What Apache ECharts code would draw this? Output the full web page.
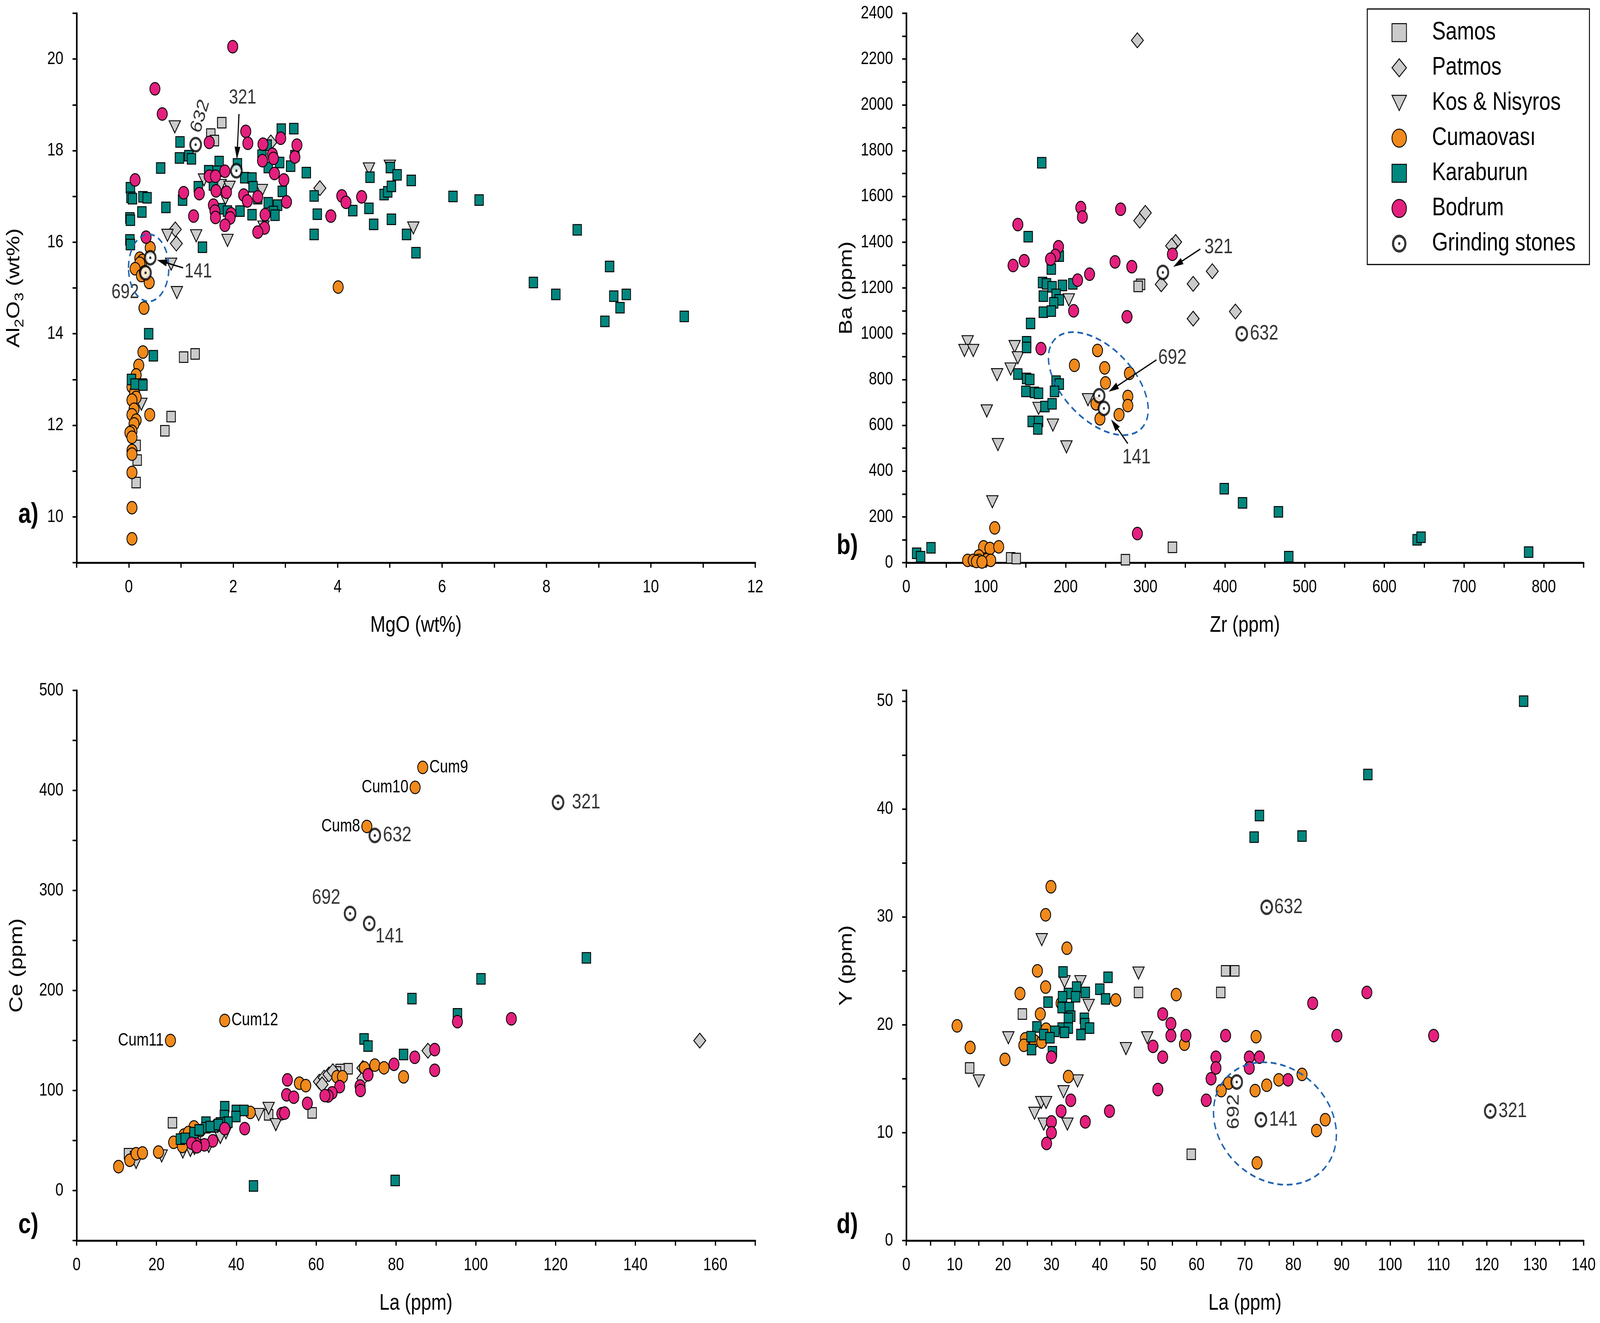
<!DOCTYPE html>
<html><head><meta charset="utf-8">
<script src="https://cdn.jsdelivr.net/npm/echarts@6/dist/echarts.min.js"></script>
<style>html,body{margin:0;padding:0;background:#fff;overflow:hidden}#c{width:5074px;height:3386px;transform-origin:0 0}</style>
</head><body><div id="c"></div>
<script>
// ---------------- DATA ----------------
const groupNames = ['Samos','Patmos','Kos & Nisyros','Cumaovası','Karaburun','Bodrum','Grinding stones'];

// Panel a : MgO (wt%) vs Al2O3 (wt%)
const samosA = [[1.78,18.61],[1.57,18.36],[1.64,18.22],[1.05,13.49],[1.27,13.56],[0.81,12.19],[0.69,11.88],[0.14,11.56],[0.16,11.24],[0.14,10.75],[0.26,12.9]];
const patmosA = [[0.89,16.28],[0.91,15.97],[2.72,18.18],[3.66,17.18]];
const kosA = [[0.88,18.52],[1.44,17.36],[1.76,17.24],[1.93,17.2],[1.85,16.95],[2.55,17.13],[2.58,16.33],[0.74,16.15],[1.29,16.14],[1.89,16.04],[0.81,15.52],[0.92,14.9],[4.6,17.6],[5.0,17.66],[5.45,16.31],[0.24,12.46]];
const cumA = [[0.41,15.88],[0.21,15.65],[0.26,15.6],[0.21,15.54],[0.12,15.42],[0.24,15.27],[0.3,15.35],[0.39,15.12],[0.29,14.56],[4.01,15.02],[0.27,13.6],[0.19,13.31],[0.14,13.1],[0.06,12.84],[0.11,12.72],[0.14,12.61],[0.06,12.55],[0.1,12.35],[0.40,12.23],[0.06,12.23],[0.14,12.11],[0.1,12.03],[0.06,11.87],[0.02,11.84],[0.06,11.74],[0.06,11.45],[0.06,11.37],[0.06,10.97],[0.06,10.2],[0.06,9.52]];
const karA = [[0.03,17.19],[0.04,16.98],[0.07,16.95],[0.27,16.99],[0.35,16.97],[0.25,16.66],[0.02,16.53],[0.03,16.48],[0.02,16.05],[0.03,15.95],[0.61,17.62],[0.71,16.76],[0.98,18.19],[0.97,17.84],[1.15,17.89],[1.2,17.82],[1.33,17.21],[1.03,16.92],[1.41,15.89],[1.53,17.56],[1.73,17.76],[1.69,17.55],[1.62,17.25],[1.77,16.73],[1.89,16.68],[2.08,17.71],[2.22,17.41],[2.36,17.4],[2.38,17.21],[2.47,16.95],[2.13,16.68],[2.36,16.6],[2.55,17.9],[2.65,18.12],[2.67,17.63],[2.89,17.74],[2.67,16.86],[2.85,16.81],[2.77,16.67],[2.8,16.59],[2.94,17.11],[2.92,18.47],[3.16,18.48],[3.18,17.89],[3.1,17.66],[3.4,17.52],[3.55,17.01],[3.61,16.61],[3.55,16.17],[4.29,16.69],[4.6,16.74],[4.69,16.39],[4.89,17.04],[4.96,17.1],[5.03,17.22],[5.01,17.63],[5.14,17.47],[4.62,17.42],[5.03,16.5],[5.32,16.17],[5.41,17.35],[5.5,15.77],[6.21,17.0],[6.71,16.92],[7.75,15.12],[8.18,14.86],[8.59,16.27],[9.21,15.47],[9.29,14.82],[9.53,14.86],[9.41,14.57],[9.12,14.27],[10.64,14.38],[0.38,14.0],[0.47,13.52],[0.05,13.0],[0.12,12.9],[0.27,12.88]];
const bodA = [[1.99,20.27],[0.50,19.35],[0.64,18.80],[0.12,17.36],[1.54,18.18],[2.24,18.42],[2.28,18.16],[2.57,18.14],[2.91,18.27],[3.22,18.12],[2.75,17.92],[2.77,17.83],[2.56,17.78],[3.18,17.86],[2.79,17.50],[2.97,17.36],[1.84,17.55],[1.54,17.44],[1.66,17.44],[1.05,17.08],[1.35,17.06],[1.67,17.12],[1.87,17.09],[2.20,17.03],[2.27,16.90],[2.47,16.99],[3.02,16.88],[1.62,16.81],[1.65,16.68],[1.24,16.57],[1.66,16.54],[1.96,16.62],[1.94,16.53],[1.84,16.37],[2.61,16.60],[2.60,16.31],[2.47,16.22],[0.33,16.11],[3.87,16.57],[4.08,17.01],[4.16,16.87],[4.46,16.99]];
const gsA = [[1.28,18.13],[2.06,17.56],[0.41,15.66],[0.32,15.33]];
const gsNamesA = ['632','321','141','692'];

// Panel b : Zr (ppm) vs Ba (ppm)
const samosB = [[294,1216],[291,1207],[131,21],[138,18],[275,13],[334,67]];
const patmosB = [[290,2282],[300,1528],[293,1494],[338,1401],[333,1384],[384,1273],[320,1216],[360,1218],[413,1097],[360,1066]];
const kosB = [[77,965],[73,927],[84,927],[136,944],[140,895],[131,846],[114,821],[101,663],[115,516],[108,266],[204,1148],[166,674],[184,601],[201,506],[228,712]];
const cumB = [[240,927],[211,862],[249,851],[280,827],[250,785],[278,726],[278,686],[238,694],[267,646],[243,628],[111,152],[97,69],[105,62],[116,69],[91,29],[77,10],[84,10],[91,10],[101,13],[106,10],[88,5],[95,3]];
const karB = [[170,1747],[153,1424],[192,1339],[182,1283],[171,1224],[176,1218],[183,1205],[196,1211],[209,1218],[172,1164],[188,1172],[192,1148],[185,1135],[172,1094],[182,1099],[156,1045],[151,965],[151,940],[140,824],[151,805],[155,800],[188,793],[192,780],[186,748],[150,748],[161,744],[166,740],[174,682],[183,694],[158,617],[166,617],[165,584],[13,41],[18,26],[31,65],[399,323],[422,261],[467,222],[480,26],[641,100],[646,111],[781,46]];
const bodB = [[140,1477],[134,1298],[148,1319],[191,1380],[187,1342],[181,1326],[219,1551],[221,1510],[269,1544],[262,1314],[283,1293],[334,1347],[230,1260],[215,1234],[210,1100],[277,1074],[169,935],[290,127]];
const gsB = [[322,1268],[421,1000],[242,729],[248,674]];
const gsNamesB = ['321','632','692','141'];

// Panel c : La (ppm) vs Ce (ppm)
const samosC = [[24.0,67.8],[13.0,36.8],[48.1,75.7],[59.0,77.6],[68.0,121.8],[66.0,121.0],[65.1,118.6],[14.5,34],[30,55]];
const patmosC = [[156.1,149.9],[88.0,139.8],[60.8,108.9],[62.0,112.9],[63.2,116.1],[64.2,119.3],[71.7,122.5],[71.7,112],[61.5,106]];
const kosC = [[48.1,82.2],[45.6,76],[49.9,65.9],[21.3,34.6],[14.9,28.1],[26.6,38.5],[28.5,40.1],[33.1,44.1],[36.0,53.0],[37.4,57.8],[29.5,42],[31,45]];
const cumC = [[10.5,23.9],[13.3,30.3],[14.9,36.8],[16.5,37.6],[20.5,38.5],[24.3,48.2],[26.9,55.5],[29.4,63.6],[26.5,44.1],[43.5,78.1],[55.8,107.3],[57.4,104.9],[65.2,113.8],[66.6,113.8],[72.1,122.7],[74.7,125.4],[77.0,122.7],[81.9,113.7],[28,58],[31,60],[35,65]];
const cumNamedC = [[86.7,423],[84.8,403],[72.7,364],[37.1,170],[23.5,150]];
const cumNamesC = ['Cum9','Cum10','Cum8','Cum12','Cum11'];
const karC = [[127.7,232.6],[101.3,211.6],[84.0,191.9],[95.4,176.7],[72.0,151.6],[73.0,144.4],[81.9,136.0],[44.3,4.6],[79.8,10.1],[37.1,83.8],[40.0,80.1],[41.9,80.1],[37.0,74.9],[39.9,74.0],[32.4,68.4],[37.9,68.4],[36.0,67.6],[34.3,63.6],[32.4,62.8],[29.4,57.9],[26.0,51.4],[27.2,52.1],[30.7,60.5],[33.5,64],[35.5,66]];
const bodC = [[108.9,171.7],[95.4,168.8],[89.7,140.9],[89.7,120.2],[84.7,133.2],[79.5,126.2],[73.0,115.7],[71.0,104.5],[71.1,100.1],[65.9,103.9],[64.0,97.7],[63.0,94.5],[62.2,94.9],[57.8,87.2],[52.8,110.6],[52.6,95.7],[54.4,93.3],[51.4,76.8],[52.1,77.4],[42.1,61.9],[37.1,61.9],[34.1,49.7],[32.0,45.7],[30.0,46.5],[28.8,47.3],[30.1,43.7]];
const gsC = [[120.6,388],[74.7,355],[68.5,277],[73.3,267]];
const gsNamesC = ['321','632','692','141'];

// Panel d : La (ppm) vs Y (ppm)
const samosD = [[24.0,21.0],[48.0,23.0],[65.0,23.0],[66.0,25.0],[67.9,25.0],[13.1,16.0],[58.9,8.0]];
const patmosD = [];
const kosD = [[28.0,27.9],[48.0,24.8],[32.7,24.0],[36.0,24.0],[37.7,21.8],[21.1,18.8],[49.8,18.8],[45.4,17.8],[15.0,14.8],[35.4,14.8],[32.5,13.8],[27.9,12.8],[28.9,12.8],[26.5,11.8],[28.4,10.8],[33.3,10.8]];
const cumD = [[28.8,30.2],[29.9,32.8],[33.2,27.1],[27.1,25.0],[28.8,23.5],[23.5,22.9],[43.3,22.3],[27.7,21.0],[10.5,19.9],[13.2,17.9],[20.4,16.8],[28.9,19.6],[24.6,18.7],[24.3,18.1],[26.5,18.5],[28.0,18.4],[33.5,15.2],[55.8,22.8],[57.5,18.2],[72.3,18.9],[66.6,14.6],[65.1,13.9],[72.1,13.9],[74.5,14.4],[77.0,14.9],[81.8,15.4],[86.6,11.2],[84.8,10.2],[72.5,7.2],[32,22]];
const karD = [[127.6,50.0],[95.4,43.2],[73.0,39.4],[71.9,37.4],[81.8,37.5],[32.4,24.9],[41.7,24.4],[29.3,22.1],[33.5,22.9],[35.2,23.5],[37.0,23.0],[40.0,23.3],[41.2,22.4],[32.3,22.6],[35.0,22.6],[32.2,21.6],[33.7,21.6],[34.0,20.8],[33.5,20.6],[36.8,20.6],[36.9,20.1],[37.9,19.7],[32.2,19.7],[33.5,19.7],[36.1,19.1],[32.7,19.3],[30.7,19.4],[27.0,19.8],[28.4,19.1],[29.7,18.8],[25.8,18.9],[25.9,17.7],[30.2,17.5]];
const bodD = [[53.0,21.0],[54.7,20.1],[54.7,19.0],[57.8,19.0],[51.0,18.0],[53.0,17.0],[52.0,14.0],[64.0,17.0],[64.0,16.0],[63.0,15.0],[62.0,13.0],[66.0,19.0],[70.9,17.0],[73.0,17.0],[70.9,16.0],[78.9,14.9],[84.0,22.0],[89.0,19.0],[95.2,23.0],[109.0,19.0],[30.0,17.0],[34.0,13.0],[32.0,12.0],[42.0,12.0],[30.0,11.0],[37.0,11.0],[30.0,10.0],[29.0,9.0]];
const gsD = [[74.5,30.9],[68.3,14.7],[73.3,11.2],[120.7,12.0]];
const gsNamesD = ['632','692','141','321'];

// ---------------- STYLE / LAYOUT ----------------
const W0 = 5074, H0 = 3386;
const FONT = '"Liberation Sans", Arial, Helvetica, sans-serif';
const GRAY = '#cbcbcb', ORANGE = '#f08a1c', TEAL = '#00877f', MAG = '#e4207e';
const TRI = 'path://M0,0 L20,0 L10,17 Z';
const RING = 'path://M10,0 A10,10 0 1,1 10,20 A10,10 0 1,1 10,0 Z M10,3 A7,7 0 1,0 10,17 A7,7 0 1,0 10,3 Z M10,8.4 A1.6,1.6 0 1,1 10,11.6 A1.6,1.6 0 1,1 10,8.4 Z';

const gridsLayout = [
  {left:243, top:34, width:2152, height:1406},
  {left:2874, top:34, width:2148, height:1406},
  {left:243, top:1767, width:2152, height:1408},
  {left:2874, top:1767, width:2148, height:1408}
];

const annot = [
  { texts:[{t:'632',at:[1.37,18.75],rotate:70},{t:'321',at:[2.18,19.15]},{t:'141',at:[1.33,15.35]},{t:'692',at:[-0.07,14.9]}],
    textSize:52, adj:{},
    arrows:[[[2.11,18.8],[2.07,17.81]],[[1.04,15.44],[0.54,15.61]]],
    ellipse:{c:[0.38,15.44], rx:64, ry:86, rot:0} },
  { texts:[{t:'321',at:[392,1377]},{t:'692',at:[334,894]},{t:'141',at:[289,459]}],
    textSize:54, adj:{'632':{position:'right',distance:6}},
    arrows:[[[369,1370],[335,1292]],[[314,886],[254,747]],[[278,520],[257,626]]],
    ellipse:{c:[241,782], rx:180, ry:100, rot:-35} },
  { texts:[{t:'692',at:[62.5,292.6]},{t:'141',at:[78.4,254]}],
    textSize:54, adj:{'632':{position:'right',distance:6},'321':{position:'right',distance:24}},
    cumSide:['right','left','left','right','left'], cumSize:46,
    arrows:[], ellipse:null },
  { texts:[{t:'692',at:[67.7,11.95],rotate:90}],
    textSize:54, adj:{'632':{position:'right',distance:4},'141':{position:'right',distance:6},'321':{position:'right',distance:6}},
    arrows:[], ellipse:{c:[76.2,10.85], rx:200, ry:150, rot:-20} }
];

const panels = [
  {samos:samosA, patmos:patmosA, kos:kosA, cum:cumA, kar:karA, bod:bodA, gs:gsA, gsNames:gsNamesA},
  {samos:samosB, patmos:patmosB, kos:kosB, cum:cumB, kar:karB, bod:bodB, gs:gsB, gsNames:gsNamesB},
  {samos:samosC, patmos:patmosC, kos:kosC, cum:cumC, kar:karC, bod:bodC, gs:gsC, gsNames:gsNamesC, cumNamed:cumNamedC, cumNames:cumNamesC},
  {samos:samosD, patmos:patmosD, kos:kosD, cum:cumD, kar:karD, bod:bodD, gs:gsD, gsNames:gsNamesD}
];

function axisBase(extra){
  return Object.assign({
    type:'value', nameLocation:'middle',
    axisLine:{show:true, onZero:false, lineStyle:{color:'#000', width:5}},
    axisTick:{show:true, inside:false, length:13, lineStyle:{color:'#000', width:4}},
    splitLine:{show:false},
    nameTextStyle:{color:'#000', fontSize:58, fontFamily:FONT}
  }, extra);
}
function lab(fn, margin){ return {color:'#000', fontSize:46, fontFamily:FONT, margin:margin, showMinLabel:true, showMaxLabel:true, formatter:fn}; }
const round = v => Math.round(v*1000)/1000;

const xAxes = [
  axisBase({gridIndex:0, min:-1, max:12, interval:1, name:'MgO (wt%)', nameGap:132, axisLabel:lab(v=>{v=round(v);return (v%2===0)?String(v):'';},40)}),
  axisBase({gridIndex:1, min:0, max:850, interval:50, name:'Zr (ppm)', nameGap:132, axisLabel:lab(v=>{v=round(v);return (v%100===0 && v<=800)?String(v):'';},40)}),
  axisBase({gridIndex:2, min:0, max:170, interval:10, name:'La (ppm)', nameGap:132, axisLabel:lab(v=>{v=round(v);return (v%20===0 && v<=160)?String(v):'';},40)}),
  axisBase({gridIndex:3, min:0, max:140, interval:5, name:'La (ppm)', nameGap:132, axisLabel:lab(v=>{v=round(v);return (v%10===0)?String(v):'';},40)})
];
const yAxes = [
  axisBase({gridIndex:0, min:9, max:21, interval:1, name:'{m|Al}{s|2}{m|O}{s|3}{m| (wt%)}', nameGap:160, nameRotate:90,
    nameTextStyle:{color:'#000', fontFamily:FONT, rich:{m:{fontSize:58, lineHeight:76, fontFamily:FONT, color:'#000'}, s:{fontSize:40, lineHeight:40, verticalAlign:'bottom', fontFamily:FONT, color:'#000'}}},
    axisLabel:lab(v=>{v=round(v);return (v%2===0)?String(v):'';},42)}),
  axisBase({gridIndex:1, min:0, max:2400, interval:100, name:'Ba (ppm)', nameGap:160, nameRotate:90, axisLabel:lab(v=>{v=round(v);return (v%200===0)?String(v):'';},42)}),
  axisBase({gridIndex:2, min:-50, max:500, interval:50, name:'Ce (ppm)', nameGap:160, nameRotate:90, axisLabel:lab(v=>{v=round(v);return (v%100===0 && v>=0)?String(v):'';},42)}),
  axisBase({gridIndex:3, min:0, max:51, interval:5, name:'Y (ppm)', nameGap:160, nameRotate:90, axisLabel:lab(v=>{v=round(v);return (v%10===0 && v<=50)?String(v):'';},42)})
];

function mk(g, name, data, symbol, size, color, extra){
  return Object.assign({type:'scatter', name:name, xAxisIndex:g, yAxisIndex:g, data:data, symbol:symbol, symbolSize:size,
    silent:true, emphasis:{disabled:true}, animation:false,
    itemStyle:{color:color, borderColor:'#000', borderWidth:2.5, opacity:1}}, extra||{});
}
const series = [];
panels.forEach((P, g) => {
  const A = annot[g];
  series.push(mk(g, 'Samos', P.samos, 'rect', 27, GRAY));
  series.push(mk(g, 'Patmos', P.patmos, 'diamond', 38, GRAY));
  series.push(mk(g, 'Kos & Nisyros', P.kos, TRI, [36,31], GRAY));
  let cumData = P.cum.slice();
  if (P.cumNamed) {
    P.cumNamed.forEach((p,i) => cumData.push({value:p, name:P.cumNames[i],
      label:{show:true, position:A.cumSide[i], distance:4, formatter:'{b}', color:'#000', fontSize:A.cumSize, fontFamily:FONT}}));
  }
  series.push(mk(g, 'Cumaovası', cumData, 'circle', 32, ORANGE));
  series.push(mk(g, 'Karaburun', P.kar, 'rect', 27, TEAL));
  series.push(mk(g, 'Bodrum', P.bod, 'circle', 32, MAG));
  const gsData = P.gs.map((p,i) => {
    const nm = P.gsNames[i];
    const item = {value:p, name:nm};
    if (A.adj[nm]) item.label = Object.assign({show:true, formatter:'{b}', color:'#000', fontSize:A.textSize, fontFamily:FONT}, A.adj[nm]);
    return item;
  });
  series.push(mk(g, 'Grinding stones', gsData, 'circle', 34, '#fff', {itemStyle:{color:'#fff', borderColor:'#000', borderWidth:6}}));
  series.push(mk(g, 'gsdot', P.gs, 'circle', 7, '#000', {itemStyle:{color:'#000', borderWidth:0}}));
  series.push({type:'scatter', name:'txt', xAxisIndex:g, yAxisIndex:g, silent:true, animation:false, symbolSize:1,
    itemStyle:{color:'rgba(0,0,0,0)'},
    data:A.texts.map(t => ({value:t.at, name:t.t, label:{rotate:t.rotate||0}})),
    label:{show:true, position:'inside', formatter:'{b}', color:'#000', fontSize:A.textSize, fontFamily:FONT}});
});

const legendData = [
  {name:'Samos', icon:'rect', itemStyle:{color:GRAY, borderColor:'#000', borderWidth:2.5}},
  {name:'Patmos', icon:'diamond', itemStyle:{color:GRAY, borderColor:'#000', borderWidth:2.5}},
  {name:'Kos & Nisyros', icon:TRI, itemStyle:{color:GRAY, borderColor:'#000', borderWidth:2.5}},
  {name:'Cumaovası', icon:'circle', itemStyle:{color:ORANGE, borderColor:'#000', borderWidth:2.5}},
  {name:'Karaburun', icon:'rect', itemStyle:{color:TEAL, borderColor:'#000', borderWidth:2.5}},
  {name:'Bodrum', icon:'circle', itemStyle:{color:MAG, borderColor:'#000', borderWidth:2.5}},
  {name:'Grinding stones', icon:RING, itemStyle:{color:'#000', borderWidth:0}}
];

// The browser viewport may be narrower than the design size: map the design onto the whole viewport.
const el = document.getElementById('c');
const vw = window.innerWidth || W0, vh = window.innerHeight || H0;
if (vw !== W0 || vh !== H0) el.style.transform = 'scale(' + (vw/W0) + ',' + (vh/H0) + ')';

const chart = echarts.init(el, null, {renderer:'canvas', width:W0, height:H0});
chart.setOption({
  animation:false,
  backgroundColor:'#fff',
  grid: gridsLayout.map(l => Object.assign({containLabel:false}, l)),
  xAxis: xAxes, yAxis: yAxes,
  legend:{orient:'vertical', left:4336, top:23, padding:[28,44,21,77], itemGap:25, itemWidth:46, itemHeight:46,
    borderColor:'#000', borderWidth:3, backgroundColor:'#fff', selectedMode:false,
    textStyle:{fontSize:65, lineHeight:64, fontFamily:FONT, color:'#000', padding:[0,0,0,76]},
    data: legendData},
  series: series
});

const gfx = [];
annot.forEach((A, g) => {
  A.arrows.forEach(ar => {
    const p1 = chart.convertToPixel({gridIndex:g}, ar[0]);
    const p2 = chart.convertToPixel({gridIndex:g}, ar[1]);
    const ang = Math.atan2(p2[1]-p1[1], p2[0]-p1[0]);
    const L = 32, W = 9;
    const bx = p2[0] - L*Math.cos(ang), by = p2[1] - L*Math.sin(ang);
    gfx.push({type:'line', silent:true, z:50, shape:{x1:p1[0], y1:p1[1], x2:bx, y2:by}, style:{stroke:'#000', lineWidth:3.5}});
    gfx.push({type:'polygon', silent:true, z:50, shape:{points:[[p2[0],p2[1]],[bx+W*Math.sin(ang), by-W*Math.cos(ang)],[bx-W*Math.sin(ang), by+W*Math.cos(ang)]]}, style:{fill:'#000'}});
  });
  if (A.ellipse) {
    const c = chart.convertToPixel({gridIndex:g}, A.ellipse.c);
    gfx.push({type:'ellipse', silent:true, z:40, x:c[0], y:c[1], rotation:A.ellipse.rot*Math.PI/180,
      shape:{cx:0, cy:0, rx:A.ellipse.rx, ry:A.ellipse.ry},
      style:{fill:'none', stroke:'#1f63b0', lineWidth:4.5, lineDash:[18,12]}});
  }
});
[['a)',58,1282],['b)',2653,1362],['c)',58,3100],['d)',2653,3100]].forEach(t => {
  gfx.push({type:'text', silent:true, left:t[1], top:t[2], style:{text:t[0], fill:'#000', fontSize:72, fontWeight:'bold', fontFamily:FONT}});
});
chart.setOption({graphic: gfx});
</script>
</body></html>
